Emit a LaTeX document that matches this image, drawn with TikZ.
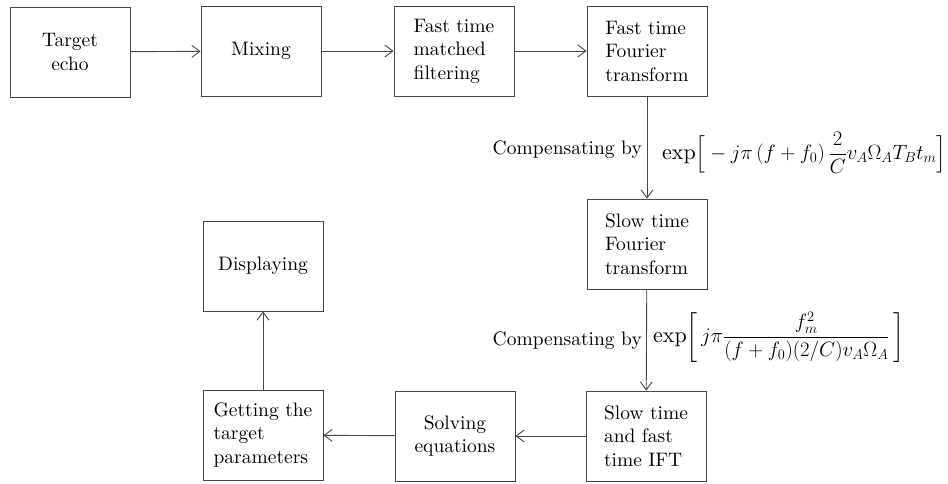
\documentclass[tikz,border=0pt]{standalone}
\usepackage{amsmath}
\usepackage{fontspec}
\setmainfont{lmroman10-regular.otf}[ItalicFont=lmroman10-italic.otf,BoldFont=lmroman10-bold.otf]
\usetikzlibrary{arrows.meta}
\begin{document}
\begin{tikzpicture}[x=1pt,y=-1pt,
  blk/.style={draw=black!72,line width=0.9pt,minimum width=120pt,minimum height=90pt,inner sep=0pt,align=left,font=\fontsize{19.5}{23.5}\selectfont},
  blkc/.style={blk,align=center},
  conn/.style={draw=black!72,line width=0.9pt,-{Straight Barb[length=8pt,width=12pt,line width=0.9pt]}},
  lbl/.style={inner sep=0pt,font=\fontsize{19.5}{23.5}\selectfont},
  mth/.style={inner sep=0pt,font=\fontsize{22}{26}\selectfont}]
\useasboundingbox (0,0) rectangle (948,483);
\node[blkc] (echo) at (70,52) {Target\\echo};
\node[blkc] (mix) at (261,51) {Mixing};
\node[blk] (mf) at (454,51) {Fast time\\matched\\filtering};
\node[blk] (fft) at (647,51) {Fast time\\Fourier\\transform};
\node[blk] (sft) at (647,244) {Slow time\\Fourier\\transform};
\node[blk] (ifft) at (646,436) {Slow time\\and fast\\time IFT};
\node[blkc] (solve) at (455,436) {Solving\\equations};
\node[blk] (get) at (263,435) {Getting the\\target\\parameters};
\node[blkc] (disp) at (263,266) {Displaying};
\draw[conn] (echo) -- (mix);
\draw[conn] (mix) -- (mf);
\draw[conn] (mf) -- (fft);
\draw[conn] (fft) -- (sft);
\draw[conn] (sft) -- (ifft);
\draw[conn] (ifft) -- (solve);
\draw[conn] (solve) -- (get);
\draw[conn] (get) -- (disp);
\node[lbl,anchor=east] (c1) at (642,150) {Compensating by};
\node[mth,anchor=west] (f1) at (662,153) {$\displaystyle \exp\!\Big[-j\pi\left(f+f_0\right)\frac{2}{C}v_A\Omega_A T_B t_m\Big]$};
\node[lbl,anchor=east] (c2) at (642,341) {Compensating by};
\node[mth,anchor=west] (f2) at (653,337) {$\displaystyle \exp\!\left[\,j\pi\frac{f_m^2}{(f+f_0)(2/C)v_A\Omega_A}\,\right]$};
\end{tikzpicture}
\end{document}
